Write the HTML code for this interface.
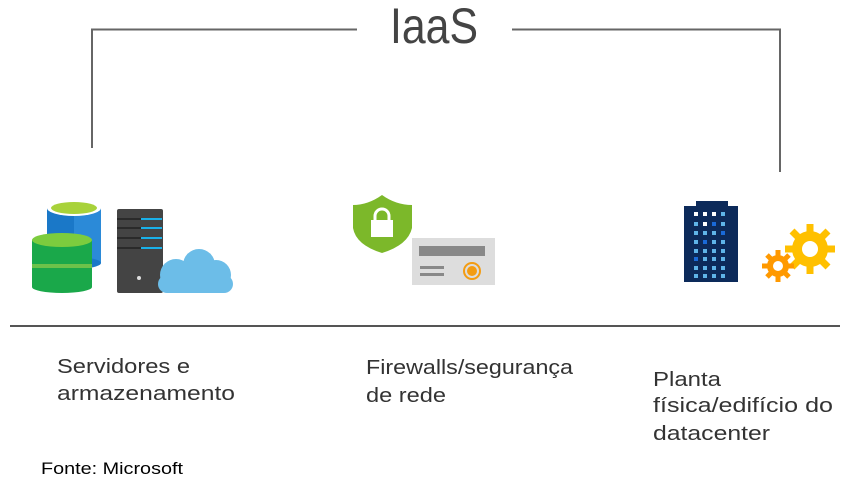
<!DOCTYPE html>
<html><head><meta charset="utf-8"><style>
html,body{margin:0;padding:0;background:#fff;width:852px;height:485px;overflow:hidden}
svg{display:block}
.t{font-family:"Liberation Sans",sans-serif;fill:#333;font-size:20px}
</style></head><body>
<svg width="852" height="485" viewBox="0 0 852 485" xmlns="http://www.w3.org/2000/svg">
<polyline points="92,148 92,29.5 357,29.5" fill="none" stroke="#666" stroke-width="2"/>
<polyline points="512,29.5 780,29.5 780,172" fill="none" stroke="#666" stroke-width="2"/>
<text x="390" y="43" font-family="Liberation Sans,sans-serif" font-size="50" fill="#444" textLength="88" lengthAdjust="spacingAndGlyphs">IaaS</text>
<line x1="10" y1="326" x2="840" y2="326" stroke="#555" stroke-width="2"/>

<!-- blue db -->
<rect x="47" y="208" width="54" height="55" fill="#1a78c8"/>
<rect x="74" y="208" width="27" height="55" fill="#2b8ad8"/>
<ellipse cx="74" cy="263" rx="27" ry="6" fill="#1a78c8"/>
<ellipse cx="74" cy="208" rx="27" ry="8" fill="#fff"/>
<ellipse cx="74" cy="208" rx="23" ry="6" fill="#a8d23a"/>
<!-- green db -->
<rect x="32" y="240" width="60" height="47" fill="#1aa84a"/>
<ellipse cx="62" cy="287" rx="30" ry="6" fill="#1aa84a"/>
<ellipse cx="62" cy="240" rx="30" ry="7" fill="#7ccc3e"/>
<rect x="32" y="264" width="60" height="4" fill="#6cc24a"/>
<!-- server -->
<rect x="117" y="209" width="46" height="84" rx="2" fill="#444"/>
<g stroke="#2a2a2a" stroke-width="2"><line x1="117" y1="219" x2="141" y2="219"/><line x1="117" y1="228" x2="141" y2="228"/><line x1="117" y1="238" x2="141" y2="238"/><line x1="117" y1="248" x2="141" y2="248"/></g>
<g stroke="#1ab0e8" stroke-width="2"><line x1="141" y1="219" x2="162" y2="219"/><line x1="141" y1="228" x2="162" y2="228"/><line x1="141" y1="238" x2="162" y2="238"/><line x1="141" y1="248" x2="162" y2="248"/></g>
<circle cx="139" cy="278" r="2" fill="#ddd"/>
<!-- cloud -->
<g fill="#6cbde8">
<circle cx="176" cy="275" r="16"/><circle cx="199" cy="265" r="16"/><circle cx="216" cy="275" r="15"/>
<rect x="158" y="275" width="75" height="18" rx="9"/>
</g>
<!-- shield -->
<path d="M382,195 Q368,205 353,205 L353,228 Q356,245 382,253 Q408,245 412,228 L412,205 Q396,205 382,195Z" fill="#7cb82a"/>
<rect x="371" y="220" width="22" height="17" fill="#fff"/>
<path d="M375,221 v-5 a7,7 0 0 1 14,0 v5" fill="none" stroke="#fff" stroke-width="3"/>
<!-- card -->
<rect x="412" y="238" width="83" height="47" fill="#ddd"/>
<rect x="419" y="246" width="66" height="10" fill="#888"/>
<rect x="420" y="266" width="24" height="3" fill="#888"/>
<rect x="420" y="273" width="24" height="3" fill="#888"/>
<circle cx="472" cy="271" r="8" fill="none" stroke="#f39c12" stroke-width="2"/>
<circle cx="472" cy="271" r="5" fill="#f39c12"/>
<!-- building -->
<rect x="696" y="201" width="32" height="6" fill="#0c2a5a"/>
<rect x="684" y="206" width="54" height="76" fill="#0c2a5a"/>
<g fill="#5fb4e8">
<rect x="694" y="212" width="4" height="4" fill="#fff"/><rect x="703" y="212" width="4" height="4" fill="#fff"/><rect x="712" y="212" width="4" height="4" fill="#fff"/><rect x="721" y="212" width="4" height="4"/>
<rect x="694" y="222" width="4" height="4"/><rect x="703" y="222" width="4" height="4" fill="#fff"/><rect x="712" y="222" width="4" height="4" fill="#1a6ad8"/><rect x="721" y="222" width="4" height="4"/>
<rect x="694" y="231" width="4" height="4"/><rect x="703" y="231" width="4" height="4"/><rect x="712" y="231" width="4" height="4"/><rect x="721" y="231" width="4" height="4" fill="#1a6ad8"/>
<rect x="694" y="240" width="4" height="4"/><rect x="703" y="240" width="4" height="4" fill="#1a6ad8"/><rect x="712" y="240" width="4" height="4"/><rect x="721" y="240" width="4" height="4"/>
<rect x="694" y="249" width="4" height="4"/><rect x="703" y="249" width="4" height="4"/><rect x="712" y="249" width="4" height="4"/><rect x="721" y="249" width="4" height="4"/>
<rect x="694" y="257" width="4" height="4" fill="#1a6ad8"/><rect x="703" y="257" width="4" height="4"/><rect x="712" y="257" width="4" height="4"/><rect x="721" y="257" width="4" height="4"/>
<rect x="694" y="266" width="4" height="4"/><rect x="703" y="266" width="4" height="4"/><rect x="712" y="266" width="4" height="4"/><rect x="721" y="266" width="4" height="4"/>
<rect x="694" y="274" width="4" height="4"/><rect x="703" y="274" width="4" height="4"/><rect x="712" y="274" width="4" height="4"/><rect x="721" y="274" width="4" height="4"/>
</g>
<!-- gears -->
<g fill="#ffc000">
<circle cx="810" cy="249" r="18"/>
<g stroke="#ffc000" stroke-width="7"><line x1="810" y1="224" x2="810" y2="274"/><line x1="785" y1="249" x2="835" y2="249"/><line x1="792" y1="231" x2="828" y2="267"/><line x1="828" y1="231" x2="792" y2="267"/></g>
</g>
<circle cx="810" cy="249" r="8" fill="#fff"/>
<g fill="#ff9900">
<circle cx="778" cy="266" r="11"/>
<g stroke="#ff9900" stroke-width="5"><line x1="778" y1="250" x2="778" y2="282"/><line x1="762" y1="266" x2="794" y2="266"/><line x1="767" y1="255" x2="789" y2="277"/><line x1="789" y1="255" x2="767" y2="277"/></g>
</g>
<circle cx="778" cy="266" r="5" fill="#fff"/>

<text class="t" x="57" y="373" textLength="133" lengthAdjust="spacingAndGlyphs">Servidores e</text>
<text class="t" x="57" y="400" textLength="178" lengthAdjust="spacingAndGlyphs">armazenamento</text>
<text class="t" x="366" y="374" textLength="207" lengthAdjust="spacingAndGlyphs">Firewalls/segurança</text>
<text class="t" x="366" y="402" textLength="80" lengthAdjust="spacingAndGlyphs">de rede</text>
<text class="t" x="653" y="386" textLength="68" lengthAdjust="spacingAndGlyphs">Planta</text>
<text class="t" x="653" y="412" textLength="180" lengthAdjust="spacingAndGlyphs">física/edifício do</text>
<text class="t" x="653" y="440" textLength="117" lengthAdjust="spacingAndGlyphs">datacenter</text>
<text x="41" y="474" font-family="Liberation Sans,sans-serif" font-size="17" fill="#000" textLength="142" lengthAdjust="spacingAndGlyphs">Fonte: Microsoft</text>
</svg>
</body></html>
